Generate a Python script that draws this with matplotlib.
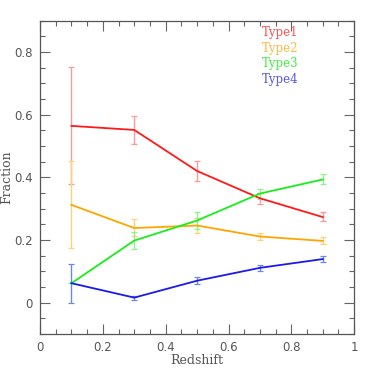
import numpy as np
import matplotlib
matplotlib.use("Agg")
from matplotlib import pyplot as plt
from matplotlib.ticker import MultipleLocator, FuncFormatter

z = [0.1, 0.3, 0.5, 0.7, 0.9]

type1 = [0.564, 0.551, 0.420, 0.333, 0.273]
type1_lo = [0.377, 0.505, 0.387, 0.316, 0.260]
type1_hi = [0.752, 0.597, 0.452, 0.349, 0.288]

type2 = [0.312, 0.238, 0.246, 0.211, 0.197]
type2_lo = [0.173, 0.212, 0.222, 0.199, 0.186]
type2_hi = [0.453, 0.267, 0.270, 0.222, 0.208]

type3 = [0.062, 0.198, 0.262, 0.348, 0.393]
type3_lo = [0.062, 0.170, 0.235, 0.332, 0.380]
type3_hi = [0.062, 0.225, 0.290, 0.364, 0.409]

type4 = [0.062, 0.016, 0.070, 0.111, 0.139]
type4_lo = [0.000, 0.010, 0.059, 0.102, 0.129]
type4_hi = [0.124, 0.022, 0.082, 0.121, 0.148]

names = ["Type1", "Type2", "Type3", "Type4"]
colors = ["#ff1a1a", "#ffa500", "#1aee1a", "#1a1aee"]
err_colors = ["#ff9a9a", "#ffd27a", "#8ef58e", "#6a8ae8"]
text_colors = ["#ff5050", "#ffb845", "#45ee45", "#5555ee"]

series = [(type1, type1_lo, type1_hi), (type2, type2_lo, type2_hi),
          (type3, type3_lo, type3_hi), (type4, type4_lo, type4_hi)]

plt.rcParams['font.family'] = 'DejaVu Serif'


def fmt(v, pos):
    if abs(v) < 1e-9:
        return '0'
    if abs(v - 1) < 1e-9:
        return '1'
    return '%.1f' % v


fig = plt.figure(figsize=(3.74, 3.74), dpi=100)
ax = fig.add_axes([0.107, 0.107, 0.840, 0.838])

for (y, lo, hi), c, ec in zip(series, colors, err_colors):
    y = np.array(y)
    yerr = [y - np.array(lo), np.array(hi) - y]
    ax.errorbar(z, y, yerr=yerr, fmt='none', ecolor=ec, elinewidth=1.0,
                capsize=2.2, capthick=0.9, zorder=1)
    ax.plot(z, y, color=c, lw=1.3, zorder=2)

leg_y = [0.861, 0.812, 0.762, 0.712]
for name, tc, ly in zip(names, text_colors, leg_y):
    ax.text(0.705, ly, name, color=tc, fontsize=8.5, va='center')

ax.set_xlim(0, 1)
ax.set_ylim(-0.1, 0.9)
ax.xaxis.set_major_locator(MultipleLocator(0.2))
ax.xaxis.set_minor_locator(MultipleLocator(0.05))
ax.yaxis.set_major_locator(MultipleLocator(0.2))
ax.yaxis.set_minor_locator(MultipleLocator(0.05))
ax.xaxis.set_major_formatter(FuncFormatter(fmt))
ax.yaxis.set_major_formatter(FuncFormatter(fmt))
ax.tick_params(which='both', direction='in', top=True, right=True,
               color='#666666', labelsize=8.5, labelcolor='#555555', pad=5)
ax.tick_params(which='major', length=7, width=0.8)
ax.tick_params(which='minor', length=3.5, width=0.8)
for lab in ax.get_xticklabels() + ax.get_yticklabels():
    lab.set_family('DejaVu Sans')
for s in ax.spines.values():
    s.set_color('#555555')
    s.set_linewidth(0.9)

ax.set_xlabel('Redshift', fontsize=9, color='#555555', labelpad=0)
ax.set_ylabel('Fraction', fontsize=9, color='#555555', labelpad=1)

fig.savefig('out.png', dpi=100)
